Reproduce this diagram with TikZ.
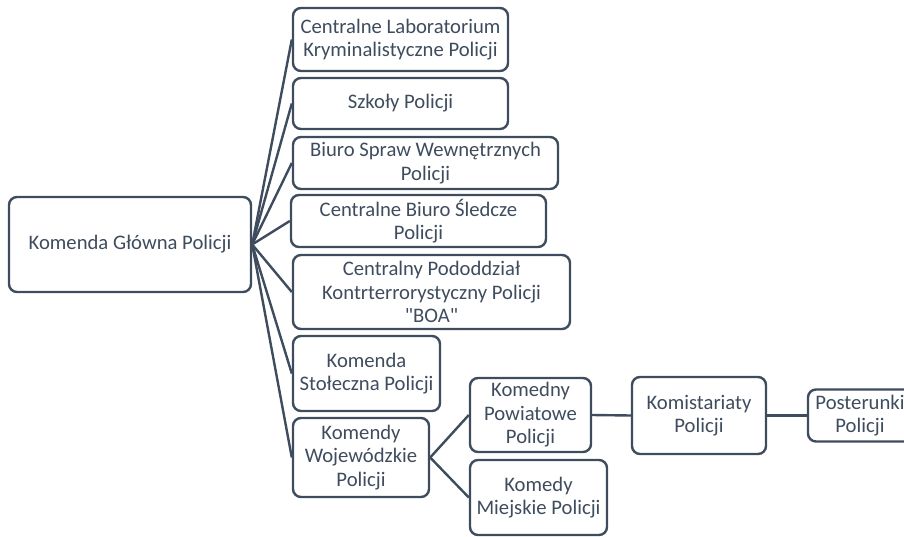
\documentclass[tikz,border=0pt]{standalone}
\usepackage{fontspec}
\setmainfont{Carlito}[Ligatures=TeXOff]
\usepackage{tikz}
\usetikzlibrary{positioning}
\definecolor{slate}{HTML}{3E4C5E}

\begin{document}
\begin{tikzpicture}[% styles used in image code
    x=0.75pt, y=-0.75pt,
box/.style = {draw=slate, line width=1.8pt, rounded corners=6pt,
              text=slate, align=center, inner sep=0pt,
              font=\fontsize{15.5}{17.6}\selectfont},
box size/.style args = {#1/#2}{minimum width=#1*0.75pt,
                               minimum height=#2*0.75pt},
link/.style = {draw=slate, line width=1.8pt}
                        ]
	\useasboundingbox (0,0) rectangle (904,536);

	% head office
	\node[box, box size=242/95] (kgp) at (130,244.5) {Komenda Główna Policji};

	% units under the head office
	\node[box, box size=215/63] (clkp) at (400.5,39.5) {Centralne Laboratorium\\Kryminalistyczne Policji};
	\node[box, box size=215/51] (szp)  at (400.5,103.5) {Szkoły Policji};
	\node[box, box size=265/52] (bswp) at (425.5,163) {Biuro Spraw Wewnętrznych\\Policji};
	\node[box, box size=255/52] (cbsp) at (418.5,221) {Centralne Biuro Śledcze\\Policji};
	\node[box, box size=277/74] (cpkp) at (431.5,292) {Centralny Pododdział\\Kontrterrorystyczny Policji\\"BOA"};
	\node[box, box size=147/75] (ksp)  at (366.5,373.5) {Komenda\\Stołeczna Policji};
	\node[box, box size=136/79] (kwp)  at (361,457.5) {Komendy\\Wojewódzkie\\Policji};

	% lower levels
	\node[box, box size=121/74] (kpp)  at (530.5,415) {Komedny\\Powiatowe\\Policji};
	\node[box, box size=137/75] (kmp)  at (538.5,497.5) {Komedy\\Miejskie Policji};
	\node[box, box size=134/77] (kom)  at (699,415.5) {Komistariaty\\Policji};
	\node[box, box size=104/52] (pos)  at (860,415.5) {Posterunki\\Policji};

	% connectors
	\foreach \n in {clkp, szp, bswp, cbsp, cpkp, ksp, kwp}
		\draw[link] (kgp.east) -- (\n.west);
	\draw[link] (kwp.east) -- (kpp.west);
	\draw[link] (kwp.east) -- (kmp.west);
	\draw[link] (kpp.east) -- (kom.west);
	\draw[link] (kom.east) -- (pos.west);
\end{tikzpicture}
\end{document}
